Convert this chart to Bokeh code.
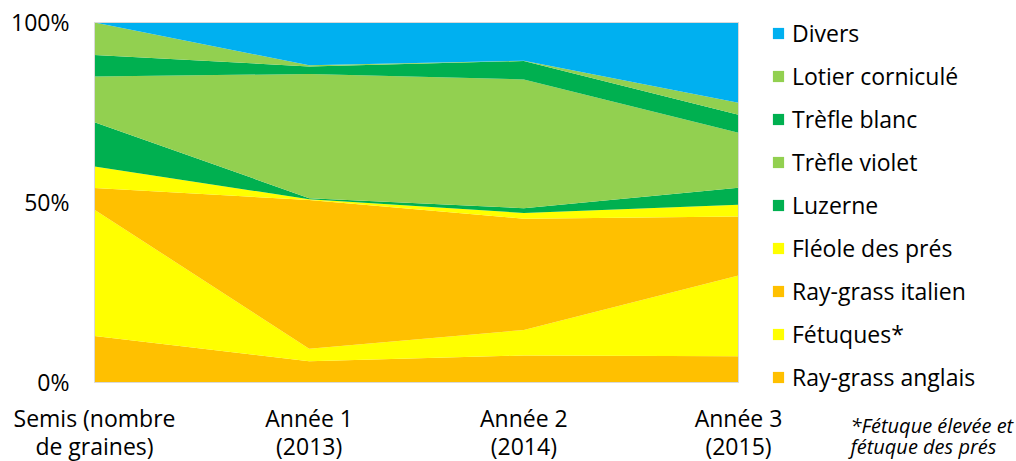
from bokeh.plotting import figure
from bokeh.models import ColumnDataSource, Range1d, Legend, LegendItem
from bokeh.core.properties import value
from bokeh.embed import file_html
from bokeh.resources import INLINE

# ---- data (percent of stand) ----
categories_line1 = ["Semis (nombre", "Année 1", "Année 2", "Année 3"]
categories_line2 = ["de graines)", "(2013)", "(2014)", "(2015)"]
ray_grass_anglais = [12.9, 5.9, 7.5, 7.3]
fetuques = [35.1, 3.5, 7.1, 22.4]
ray_grass_italien = [6.0, 41.3, 30.9, 16.4]
fleole_des_pres = [6.0, 0.2, 1.6, 3.3]
luzerne = [12.3, 0.3, 1.3, 4.7]
trefle_violet = [12.7, 34.5, 35.8, 15.3]
trefle_blanc = [6.0, 2.1, 5.1, 5.0]
lotier_cornicule = [9.0, 0.3, 0.1, 3.3]
divers = [0.0, 11.9, 10.6, 22.3]

series_names = ["Ray-grass anglais", "Fétuques*", "Ray-grass italien", "Fléole des prés",
                "Luzerne", "Trèfle violet", "Trèfle blanc", "Lotier corniculé", "Divers"]
series_values = [ray_grass_anglais, fetuques, ray_grass_italien, fleole_des_pres,
                 luzerne, trefle_violet, trefle_blanc, lotier_cornicule, divers]
series_colors = ["#FFC000", "#FFFF00", "#FFC000", "#FFFF00",
                 "#00B050", "#92D050", "#00B050", "#92D050", "#00B0F0"]
y_ticks = [0, 50, 100]
y_tick_labels = ["0%", "50%", "100%"]
footnote_lines = ["*Fétuque élevée et", "fétuque des prés"]

# ---- layout (pixels) ----
W, H = 1016, 461
PLOT_L, PLOT_R, PLOT_T, PLOT_B = 94, 738, 22, 382
FONT = "Open Sans"
n_cat = len(categories_line1)
y_max = max(y_ticks)
dx = (PLOT_R - PLOT_L) / (n_cat - 1)     # px per category step
dy = (PLOT_B - PLOT_T) / y_max           # px per percent

def X(px):
    return (px - PLOT_L) / dx

def Y(py):
    return (PLOT_B - py) / dy

x_idx = list(range(n_cat))
data = {"x": x_idx}
for n, v in zip(series_names, series_values):
    data[n] = v
source = ColumnDataSource(data)

p = figure(width=W, height=H, output_backend="svg", toolbar_location=None,
           x_range=Range1d(X(0), X(W)), y_range=Range1d(Y(H), Y(0)),
           x_axis_location=None, y_axis_location=None,
           min_border=0, min_border_left=0, min_border_right=0,
           min_border_top=0, min_border_bottom=0)
p.outline_line_color = None
p.grid.visible = False

renderers = p.varea_stack(stackers=series_names, x="x", color=series_colors, source=source)

# plot-area frame
p.quad(left=[0], right=[n_cat - 1], bottom=[0], top=[y_max],
       fill_color=None, line_color="#D9D9D9", line_width=1)

# y tick labels
p.text(x=[X(PLOT_L - 25)] * len(y_ticks), y=[t + 1 / dy for t in y_ticks], text=y_tick_labels,
       text_align="right", text_baseline="middle",
       text_font=value(FONT), text_font_size="23px", text_color="#000000")

# category labels (two lines)
p.text(x=x_idx, y=[Y(417)] * n_cat, text=categories_line1,
       text_align="center", text_baseline="middle",
       text_font=value(FONT), text_font_size="23px", text_color="#000000")
p.text(x=x_idx, y=[Y(445)] * n_cat, text=categories_line2,
       text_align="center", text_baseline="middle",
       text_font=value(FONT), text_font_size="23px", text_color="#000000")

# footnote
p.text(x=[X(850)] * 2, y=[Y(425), Y(446)], text=footnote_lines,
       text_align="left", text_baseline="middle",
       text_font=value(FONT), text_font_size="20px", text_font_style="italic",
       text_color="#000000")

items = [LegendItem(label=n, renderers=[r]) for n, r in zip(series_names, renderers)]
items.reverse()
legend = Legend(items=items, location=(771, 68), orientation="vertical",
                glyph_width=14, glyph_height=14, label_height=31, spacing=11,
                label_standoff=7, padding=0, margin=0,
                label_text_font=FONT, label_text_font_size="23px", label_text_color="#000000",
                border_line_color=None, background_fill_alpha=0)
p.add_layout(legend, "center")

open("out.html", "w").write(file_html(p, INLINE))
